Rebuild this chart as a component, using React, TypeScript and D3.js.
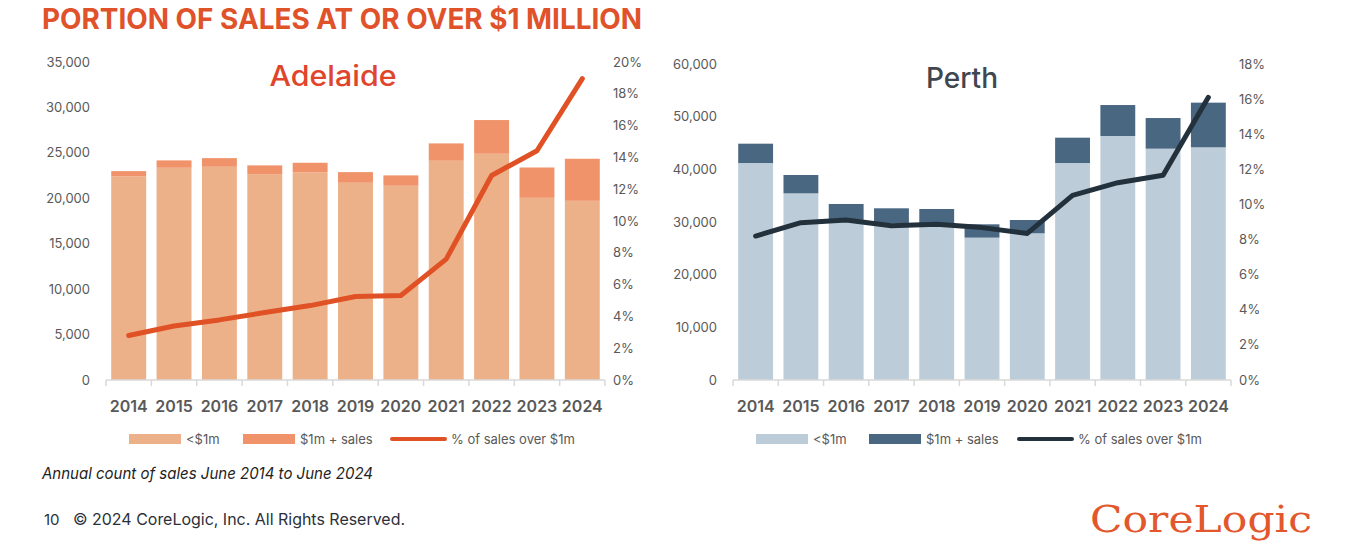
import { useEffect, useRef } from "react";
import * as d3 from "d3";

const years = ["2014", "2015", "2016", "2017", "2018", "2019", "2020", "2021", "2022", "2023", "2024"];

// Adelaide
const adlUnder = [22400, 23360, 23470, 22660, 22850, 21710, 21380, 24130, 24900, 20050, 19720];
const adlOver = [590, 810, 950, 960, 1060, 1170, 1140, 1910, 3710, 3340, 4630];
const adlPct = [2.8, 3.4, 3.78, 4.24, 4.68, 5.25, 5.31, 7.6, 12.86, 14.42, 18.95];

// Perth
const perUnder = [41200, 35440, 30400, 29730, 29590, 27030, 27850, 41200, 46330, 43920, 44180];
const perOver = [3670, 3480, 3020, 2870, 2880, 2530, 2530, 4810, 5880, 5820, 8480];
const perPct = [8.2, 8.96, 9.11, 8.79, 8.87, 8.68, 8.35, 10.52, 11.24, 11.66, 16.1];

const legendLabels = ["<$1m", "$1m + sales", "% of sales over $1m"];

const FONT = "Inter, 'Noto Sans', sans-serif";

interface Panel {
  name: string;
  nameColor: string;
  nameWidth: number;
  under: number[];
  over: number[];
  pct: number[];
  leftMax: number;
  leftStep: number;
  rightMax: number;
  x0: number;
  x1: number;
  top: number;
  underColor: string;
  overColor: string;
  lineColor: string;
  nameX: number;
  nameY: number;
  legendX: number[];
}

const panels: Panel[] = [
  {
    name: "Adelaide",
    nameColor: "#e0442a",
    nameWidth: 127,
    under: adlUnder,
    over: adlOver,
    pct: adlPct,
    leftMax: 35000,
    leftStep: 5000,
    rightMax: 20,
    x0: 106,
    x1: 605,
    top: 62,
    underColor: "#edb18a",
    overColor: "#f0936a",
    lineColor: "#e05226",
    nameX: 333,
    nameY: 86,
    legendX: [129, 243, 392],
  },
  {
    name: "Perth",
    nameColor: "#3f4650",
    nameWidth: 72,
    under: perUnder,
    over: perOver,
    pct: perPct,
    leftMax: 60000,
    leftStep: 10000,
    rightMax: 18,
    x0: 733,
    x1: 1231,
    top: 64,
    underColor: "#bccdd9",
    overColor: "#4a6782",
    lineColor: "#23313d",
    nameX: 962,
    nameY: 88,
    legendX: [756, 869, 1019],
  },
];

const BOTTOM = 380;

export default function App() {
  const svgRef = useRef<SVGSVGElement>(null);

  useEffect(() => {
    if (!svgRef.current) return;
    const svg = d3.select(svgRef.current);
    svg.selectAll("*").remove();

    svg
      .append("text")
      .attr("x", 42)
      .attr("y", 29)
      .attr("fill", "#e0522a")
      .attr("font-family", FONT)
      .attr("font-weight", 700)
      .attr("font-size", 28)
      .attr("textLength", 600)
      .attr("lengthAdjust", "spacingAndGlyphs")
      .text("PORTION OF SALES AT OR OVER $1 MILLION");

    panels.forEach((p) => {
      const g = svg.append("g");
      const x = d3.scaleBand<string>().domain(years).range([p.x0, p.x1]).paddingInner(0.23).paddingOuter(0.115);
      const band = d3.scaleBand<string>().domain(years).range([p.x0, p.x1]);
      const yL = d3.scaleLinear().domain([0, p.leftMax]).range([BOTTOM, p.top]);
      const yR = d3.scaleLinear().domain([0, p.rightMax]).range([BOTTOM, p.top]);

      // left axis labels
      g.append("g")
        .selectAll("text")
        .data(d3.range(0, p.leftMax + 1, p.leftStep))
        .join("text")
        .attr("x", p.x0 - 16)
        .attr("y", (d) => yL(d) + 4.5)
        .attr("text-anchor", "end")
        .attr("fill", "#595959")
        .attr("font-family", FONT)
        .attr("font-size", 13)
        .text((d) => d3.format(",")(d));

      // right axis labels
      g.append("g")
        .selectAll("text")
        .data(d3.range(0, p.rightMax + 1, 2))
        .join("text")
        .attr("x", p.x1 + 8)
        .attr("y", (d) => yR(d) + 4.5)
        .attr("fill", "#595959")
        .attr("font-family", FONT)
        .attr("font-size", 13)
        .text((d) => `${d}%`);

      // stacked bars
      g.append("g")
        .selectAll("rect")
        .data(years)
        .join("rect")
        .attr("x", (d) => x(d)!)
        .attr("width", x.bandwidth())
        .attr("y", (_, i) => yL(p.under[i]))
        .attr("height", (_, i) => BOTTOM - yL(p.under[i]))
        .attr("fill", p.underColor);
      g.append("g")
        .selectAll("rect")
        .data(years)
        .join("rect")
        .attr("x", (d) => x(d)!)
        .attr("width", x.bandwidth())
        .attr("y", (_, i) => yL(p.under[i] + p.over[i]))
        .attr("height", (_, i) => yL(p.under[i]) - yL(p.under[i] + p.over[i]))
        .attr("fill", p.overColor);

      // x axis with boundary ticks
      g.append("line")
        .attr("x1", p.x0)
        .attr("x2", p.x1)
        .attr("y1", BOTTOM)
        .attr("y2", BOTTOM)
        .attr("stroke", "#d9d9d9")
        .attr("stroke-width", 1.5);
      g.append("g")
        .selectAll("line")
        .data([...years.map((d) => band(d)!), p.x1])
        .join("line")
        .attr("x1", (d) => d)
        .attr("x2", (d) => d)
        .attr("y1", BOTTOM)
        .attr("y2", BOTTOM + 6)
        .attr("stroke", "#d9d9d9")
        .attr("stroke-width", 1.5);

      g.append("g")
        .selectAll("text")
        .data(years)
        .join("text")
        .attr("x", (d) => x(d)! + x.bandwidth() / 2)
        .attr("y", 412)
        .attr("text-anchor", "middle")
        .attr("fill", "#595959")
        .attr("font-family", FONT)
        .attr("font-weight", 600)
        .attr("font-size", 16)
        .text((d) => d);

      // line
      const line = d3
        .line<number>()
        .x((_, i) => x(years[i])! + x.bandwidth() / 2)
        .y((d) => yR(d));
      g.append("path")
        .datum(p.pct)
        .attr("d", line)
        .attr("fill", "none")
        .attr("stroke", p.lineColor)
        .attr("stroke-width", 5)
        .attr("stroke-linejoin", "round")
        .attr("stroke-linecap", "round");

      g.append("text")
        .attr("x", p.nameX - p.nameWidth / 2)
        .attr("y", p.nameY)
        .attr("fill", p.nameColor)
        .attr("font-family", FONT)
        .attr("font-weight", 500)
        .attr("font-size", 28)
        .attr("textLength", p.nameWidth)
        .attr("lengthAdjust", "spacingAndGlyphs")
        .text(p.name);

      // legend
      const ly = 439;
      const lg = g.append("g").attr("font-family", FONT).attr("font-size", 13).attr("fill", "#595959");
      [p.underColor, p.overColor].forEach((c, i) => {
        lg.append("rect")
          .attr("x", p.legendX[i])
          .attr("y", ly - 5)
          .attr("width", 52)
          .attr("height", 10)
          .attr("fill", c);
        lg.append("text")
          .attr("x", p.legendX[i] + 57)
          .attr("y", ly + 4.5)
          .text(legendLabels[i]);
      });
      lg.append("line")
        .attr("x1", p.legendX[2])
        .attr("x2", p.legendX[2] + 53)
        .attr("y1", ly)
        .attr("y2", ly)
        .attr("stroke", p.lineColor)
        .attr("stroke-width", 4)
        .attr("stroke-linecap", "round");
      lg.append("text")
        .attr("x", p.legendX[2] + 59)
        .attr("y", ly + 4.5)
        .text(legendLabels[2]);
    });

    svg
      .append("text")
      .attr("x", 42)
      .attr("y", 479)
      .attr("fill", "#222")
      .attr("font-family", FONT)
      .attr("font-style", "italic")
      .attr("font-size", 16)
      .attr("textLength", 331)
      .attr("lengthAdjust", "spacingAndGlyphs")
      .text("Annual count of sales June 2014 to June 2024");

    svg
      .append("text")
      .attr("x", 44)
      .attr("y", 525)
      .attr("fill", "#2b303a")
      .attr("font-family", FONT)
      .attr("font-size", 15)
      .text("10");
    svg
      .append("text")
      .attr("x", 73)
      .attr("y", 525)
      .attr("fill", "#2b303a")
      .attr("font-family", FONT)
      .attr("font-size", 16)
      .attr("textLength", 332)
      .attr("lengthAdjust", "spacingAndGlyphs")
      .text("© 2024 CoreLogic, Inc. All Rights Reserved.");

    svg
      .append("text")
      .attr("x", 1090)
      .attr("y", 532)
      .attr("fill", "#e2572b")
      .attr("font-family", "'DejaVu Serif', serif")
      .attr("font-size", 38)
      .attr("textLength", 222)
      .attr("lengthAdjust", "spacingAndGlyphs")
      .text("CoreLogic");
  }, []);

  return (
    <svg
      ref={svgRef}
      width={1356}
      height={560}
      style={{ position: "absolute", left: 0, top: 0, background: "#fff" }}
    />
  );
}
